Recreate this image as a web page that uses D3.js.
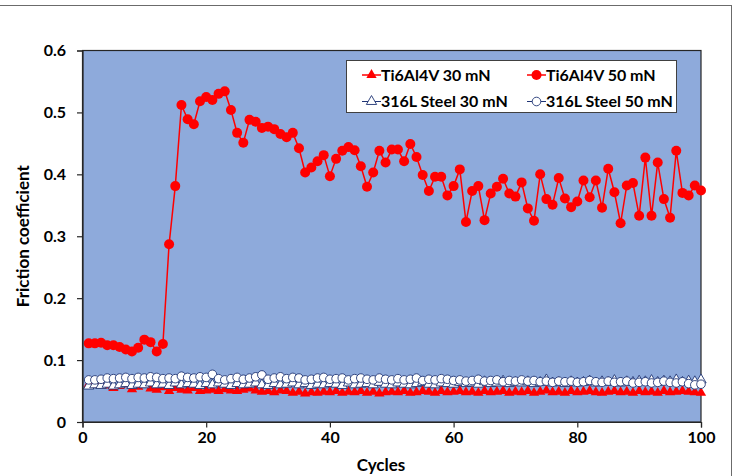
<!DOCTYPE html>
<html><head><meta charset="utf-8">
<script src="https://cdn.jsdelivr.net/npm/d3@7/dist/d3.min.js"></script>
<style>body{margin:0;background:#fff;}svg{display:block;}text{font-family:Lato,"Open Sans",sans-serif;font-weight:bold;fill:#000;}</style>
</head><body><svg id="c" width="734" height="476"></svg>
<script>
const cycles = d3.range(1, 101);
const xTicks = [0, 20, 40, 60, 80, 100];
const yTicks = [0, 0.1, 0.2, 0.3, 0.4, 0.5, 0.6];
const yTickLabels = ["0", "0.1", "0.2", "0.3", "0.4", "0.5", "0.6"];
const seriesNames = ["Ti6Al4V 30 mN", "Ti6Al4V 50 mN", "316L Steel 30 mN", "316L Steel 50 mN"];

const ti30 = [0.061,0.060,0.061,0.059,0.055,0.058,0.061,0.053,0.057,0.060,
0.054,0.052,0.056,0.050,0.055,0.052,0.051,0.055,0.050,0.051,
0.052,0.050,0.053,0.051,0.050,0.052,0.054,0.051,0.049,0.050,
0.048,0.051,0.050,0.047,0.049,0.046,0.048,0.047,0.049,0.048,
0.050,0.047,0.049,0.048,0.050,0.047,0.049,0.046,0.048,0.049,
0.048,0.050,0.047,0.048,0.050,0.049,0.047,0.050,0.048,0.049,
0.050,0.048,0.049,0.047,0.050,0.048,0.049,0.050,0.047,0.049,
0.048,0.050,0.047,0.049,0.051,0.048,0.049,0.047,0.050,0.048,
0.049,0.050,0.048,0.047,0.049,0.050,0.048,0.049,0.047,0.050,
0.048,0.049,0.047,0.050,0.048,0.049,0.050,0.049,0.048,0.047];

const ti50 = [0.127,0.127,0.128,0.124,0.124,0.121,0.117,0.114,0.120,0.133,
0.129,0.114,0.126,0.287,0.381,0.512,0.489,0.481,0.518,0.525,
0.520,0.530,0.534,0.504,0.467,0.451,0.488,0.485,0.475,0.477,
0.473,0.465,0.460,0.467,0.442,0.403,0.411,0.421,0.431,0.397,
0.425,0.438,0.444,0.439,0.413,0.380,0.403,0.438,0.419,0.440,
0.440,0.421,0.449,0.428,0.399,0.373,0.396,0.396,0.366,0.381,
0.408,0.323,0.373,0.381,0.326,0.369,0.380,0.393,0.369,0.364,
0.387,0.345,0.325,0.400,0.360,0.351,0.394,0.361,0.347,0.356,
0.390,0.363,0.390,0.346,0.409,0.371,0.321,0.382,0.386,0.333,
0.427,0.333,0.419,0.360,0.330,0.438,0.370,0.366,0.382,0.374];

const ss30 = [0.058,0.060,0.059,0.061,0.058,0.060,0.062,0.059,0.061,0.060,
0.063,0.060,0.061,0.059,0.063,0.060,0.062,0.061,0.059,0.062,
0.060,0.063,0.061,0.059,0.062,0.060,0.061,0.063,0.060,0.059,
0.062,0.060,0.061,0.063,0.060,0.062,0.059,0.061,0.060,0.062,
0.061,0.059,0.063,0.060,0.061,0.062,0.060,0.064,0.061,0.060,
0.063,0.061,0.060,0.062,0.064,0.061,0.060,0.063,0.062,0.061,
0.064,0.062,0.063,0.061,0.065,0.062,0.063,0.066,0.062,0.064,
0.063,0.065,0.062,0.064,0.068,0.063,0.064,0.062,0.065,0.063,
0.064,0.066,0.063,0.065,0.064,0.067,0.063,0.065,0.064,0.066,
0.065,0.067,0.064,0.066,0.065,0.068,0.064,0.066,0.065,0.068];

const ss50 = [0.068,0.068,0.069,0.071,0.070,0.071,0.072,0.070,0.072,0.071,
0.073,0.072,0.070,0.071,0.070,0.074,0.072,0.071,0.073,0.072,
0.077,0.070,0.068,0.070,0.072,0.069,0.071,0.073,0.076,0.069,
0.071,0.073,0.070,0.072,0.071,0.068,0.069,0.071,0.072,0.069,
0.070,0.071,0.068,0.070,0.071,0.069,0.068,0.071,0.069,0.068,
0.070,0.068,0.069,0.071,0.067,0.069,0.068,0.070,0.069,0.067,
0.068,0.066,0.067,0.069,0.066,0.067,0.068,0.065,0.067,0.066,
0.068,0.066,0.067,0.065,0.066,0.064,0.066,0.065,0.066,0.064,
0.065,0.067,0.065,0.064,0.066,0.064,0.065,0.066,0.063,0.064,
0.065,0.063,0.064,0.066,0.064,0.063,0.065,0.062,0.060,0.061];

const svg = d3.select("#c");
const L = 82.5, R = 701, T = 50.5, B = 422;
const x = d3.scaleLinear().domain([0, 100]).range([L, R]);
const y = d3.scaleLinear().domain([0, 0.6]).range([B, T]);

// outer chart border
svg.append("rect").attr("x", -2).attr("y", 5.5).attr("width", 733.5).attr("height", 480)
  .attr("fill", "none").attr("stroke", "#6b6b6b").attr("stroke-width", 1);

// plot area
svg.append("rect").attr("x", L).attr("y", T).attr("width", R - L).attr("height", B - T)
  .attr("fill", "#8eaadb").attr("stroke", "#262626").attr("stroke-width", 1.2);

const red = "#ff0000", navy = "#1f3474";
const triPath = d3.symbol().type(d3.symbolTriangle).size(46);

function drawLine(data, color, w) {
  svg.append("path").datum(data)
    .attr("fill", "none").attr("stroke", color).attr("stroke-width", w)
    .attr("d", d3.line().x((d, i) => x(cycles[i])).y(d => y(d)));
}
// Series 1: Ti6Al4V 30 mN
drawLine(ti30, red, 1.5);
svg.append("g").selectAll("path").data(ti30).join("path")
  .attr("d", triPath).attr("transform", (d, i) => `translate(${x(cycles[i])},${y(d)})`)
  .attr("fill", red);
// Series 2: Ti6Al4V 50 mN
drawLine(ti50, red, 1.5);
svg.append("g").selectAll("circle").data(ti50).join("circle")
  .attr("cx", (d, i) => x(cycles[i])).attr("cy", d => y(d)).attr("r", 5).attr("fill", red);
// Series 3: 316L 30 mN
drawLine(ss30, navy, 1);
svg.append("g").selectAll("path").data(ss30).join("path")
  .attr("d", triPath).attr("transform", (d, i) => `translate(${x(cycles[i])},${y(d)})`)
  .attr("fill", "#fff").attr("stroke", navy).attr("stroke-width", 0.9);
// Series 4: 316L 50 mN
drawLine(ss50, navy, 1);
svg.append("g").selectAll("circle").data(ss50).join("circle")
  .attr("cx", (d, i) => x(cycles[i])).attr("cy", d => y(d)).attr("r", 4.3)
  .attr("fill", "#fff").attr("stroke", navy).attr("stroke-width", 0.9);

// axes
const yAxis = d3.axisLeft(y).tickValues(yTicks).tickSize(5.5).tickPadding(11)
  .tickFormat((d, i) => yTickLabels[i]);
const gy = svg.append("g").attr("transform", `translate(${L},0)`).call(yAxis);
const xAxis = d3.axisBottom(x).tickValues(xTicks).tickSize(5.5).tickPadding(4)
  .tickFormat(d3.format("d"));
const gx = svg.append("g").attr("transform", `translate(0,${B})`).call(xAxis);
[gy, gx].forEach(g => {
  g.select(".domain").attr("stroke", "#262626").attr("stroke-width", 1.2);
  g.selectAll(".tick line").attr("stroke", "#262626").attr("stroke-width", 1.2);
  g.selectAll("text").style("font-family", "Lato").style("font-weight", "bold")
    .style("font-size", "16px").attr("fill", "#000");
});

// axis titles
svg.append("text").attr("transform", `translate(29,${(T + B) / 2}) rotate(-90)`)
  .attr("text-anchor", "middle").style("font-size", "17px").text("Friction coefficient");
svg.append("text").attr("x", 381).attr("y", 471)
  .attr("text-anchor", "middle").style("font-size", "17px").text("Cycles");

// legend
const lg = svg.append("g");
lg.append("rect").attr("x", 346.5).attr("y", 60.5).attr("width", 330).attr("height", 52)
  .attr("fill", "#fff").attr("stroke", "#404040").attr("stroke-width", 1);
const legendPos = [[362, 75], [527, 75], [362, 101.5], [527, 101.5]];
const legendStyle = [
  {color: red, mark: "tri", fill: red},
  {color: red, mark: "circ", fill: red},
  {color: navy, mark: "tri", fill: "#fff"},
  {color: navy, mark: "circ", fill: "#fff"}];
seriesNames.forEach((name, i) => {
  const [lx, ly] = legendPos[i], s = legendStyle[i];
  lg.append("line").attr("x1", lx).attr("x2", lx + 19).attr("y1", ly).attr("y2", ly)
    .attr("stroke", s.color).attr("stroke-width", i < 2 ? 1.5 : 1);
  if (s.mark === "tri") {
    lg.append("path").attr("d", triPath).attr("transform", `translate(${lx + 9.5},${ly})`)
      .attr("fill", s.fill).attr("stroke", i < 2 ? "none" : navy).attr("stroke-width", 0.9);
  } else {
    lg.append("circle").attr("cx", lx + 9.5).attr("cy", ly).attr("r", i < 2 ? 5 : 4.3)
      .attr("fill", s.fill).attr("stroke", i < 2 ? "none" : navy).attr("stroke-width", 0.9);
  }
  lg.append("text").attr("x", lx + 19).attr("y", ly + 5.5).style("font-size", "16px").text(name);
});
</script></body></html>
